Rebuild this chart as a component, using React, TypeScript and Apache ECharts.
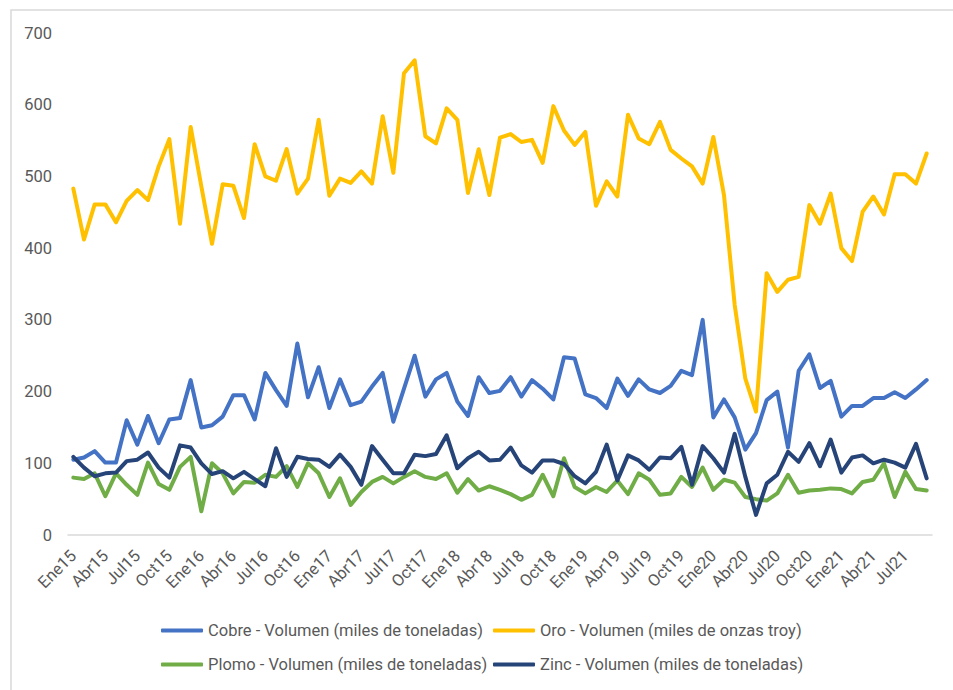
import React, { useEffect, useRef } from "react";
import * as echarts from "echarts";

const categories = [
  "Ene15","Feb15","Mar15","Abr15","May15","Jun15","Jul15","Ago15","Sep15","Oct15","Nov15","Dic15",
  "Ene16","Feb16","Mar16","Abr16","May16","Jun16","Jul16","Ago16","Sep16","Oct16","Nov16","Dic16",
  "Ene17","Feb17","Mar17","Abr17","May17","Jun17","Jul17","Ago17","Sep17","Oct17","Nov17","Dic17",
  "Ene18","Feb18","Mar18","Abr18","May18","Jun18","Jul18","Ago18","Sep18","Oct18","Nov18","Dic18",
  "Ene19","Feb19","Mar19","Abr19","May19","Jun19","Jul19","Ago19","Sep19","Oct19","Nov19","Dic19",
  "Ene20","Feb20","Mar20","Abr20","May20","Jun20","Jul20","Ago20","Sep20","Oct20","Nov20","Dic20",
  "Ene21","Feb21","Mar21","Abr21","May21","Jun21","Jul21","Ago21","Sep21",
];

const cobre = [
  105, 108, 117, 101, 101, 160, 126, 166, 128, 161, 163, 216,
  150, 153, 165, 195, 195, 161, 226, 202, 180, 267, 192, 234,
  177, 217, 181, 186, 207, 226, 158, 204, 250, 193, 217, 226,
  186, 166, 220, 198, 201, 220, 193, 216, 204, 189, 248, 246,
  196, 191, 177, 218, 194, 217, 203, 198, 208, 229, 223, 300,
  164, 189, 164, 119, 142, 188, 200, 122, 229, 252, 205, 215,
  165, 180, 180, 191, 191, 199, 191, 203, 216,
];

const oro = [
  483, 412, 461, 461, 436, 466, 481, 467, 514, 552, 434, 569,
  486, 406, 489, 487, 442, 545, 500, 494, 538, 476, 497, 579,
  473, 497, 491, 507, 490, 584, 505, 644, 662, 556, 546, 595,
  579, 477, 538, 474, 554, 559, 548, 551, 519, 598, 564, 544,
  562, 459, 493, 472, 586, 553, 545, 576, 537, 525, 514, 490,
  555, 474, 321, 218, 172, 365, 339, 356, 360, 460, 434, 476,
  400, 382, 451, 472, 447, 503, 503, 490, 532,
];

const plomo = [
  80, 78, 86, 54, 86, 70, 56, 101, 71, 63, 95, 109,
  33, 100, 86, 58, 74, 73, 84, 81, 96, 67, 100, 86,
  53, 79, 42, 60, 74, 81, 72, 81, 89, 81, 78, 86,
  59, 78, 62, 68, 63, 57, 49, 56, 84, 54, 107, 67,
  58, 67, 60, 76, 57, 86, 77, 56, 58, 81, 67, 94,
  63, 77, 73, 53, 50, 48, 58, 84, 59, 62, 63, 65,
  64, 58, 74, 77, 100, 53, 88, 64, 62,
];

const zinc = [
  109, 94, 82, 86, 87, 103, 105, 115, 94, 80, 125, 122,
  100, 85, 89, 79, 88, 78, 68, 121, 81, 109, 106, 105,
  95, 112, 95, 70, 124, 105, 86, 86, 112, 110, 113, 139,
  93, 107, 116, 104, 105, 122, 97, 87, 104, 104, 99, 82,
  72, 88, 126, 76, 111, 104, 91, 108, 107, 123, 70, 124,
  107, 87, 141, 81, 28, 72, 84, 116, 102, 128, 96, 133,
  87, 108, 111, 100, 105, 101, 94, 127, 79,
];

const seriesNames = [
  "Cobre - Volumen (miles de toneladas)",
  "Oro - Volumen (miles de onzas troy)",
  "Plomo - Volumen (miles de toneladas)",
  "Zinc - Volumen (miles de toneladas)",
];
const seriesColors = ["#4472C4", "#FFC000", "#70AD47", "#264478"];
const seriesData = [cobre, oro, plomo, zinc];

const FONT = "Roboto";
const TEXT_COLOR = "#595959";

export default function App() {
  const ref = useRef<HTMLDivElement>(null);

  useEffect(() => {
    if (!ref.current) return;
    const chart = echarts.init(ref.current, null, { renderer: "svg" });
    const legendPos = [
      { left: 161, top: 622 },
      { left: 493, top: 622 },
      { left: 161, top: 656 },
      { left: 493, top: 656 },
    ];
    chart.setOption({
      animation: false,
      backgroundColor: "#ffffff",
      textStyle: { fontFamily: FONT },
      grid: { left: 68, right: 21, top: 33, bottom: 155, containLabel: false },
      graphic: [
        {
          type: "rect",
          shape: { x: 11, y: 10, width: 960, height: 700 },
          style: { fill: "none", stroke: "#d9d9d9", lineWidth: 1.5 },
          silent: true,
        },
      ],
      legend: seriesNames.map((n, i) => ({
        data: [n],
        left: legendPos[i].left,
        top: legendPos[i].top,
        icon: "roundRect",
        itemWidth: 42,
        itemHeight: 4,
        itemGap: 0,
        padding: 0,
        textStyle: { color: TEXT_COLOR, fontSize: 16.5, fontFamily: FONT },
      })),
      xAxis: {
        type: "category",
        data: categories,
        boundaryGap: true,
        axisLine: { show: true, lineStyle: { color: "#d9d9d9", width: 1.5 } },
        axisTick: { show: false },
        axisLabel: {
          interval: 2,
          rotate: 45,
          margin: 18,
          color: TEXT_COLOR,
          fontSize: 16.5,
          fontFamily: FONT,
        },
        splitLine: { show: false },
      },
      yAxis: {
        type: "value",
        min: 0,
        max: 700,
        interval: 100,
        axisLine: { show: false },
        axisTick: { show: false },
        splitLine: { show: false },
        axisLabel: {
          margin: 16,
          color: TEXT_COLOR,
          fontSize: 16.5,
          fontFamily: FONT,
        },
      },
      series: seriesNames.map((n, i) => ({
        name: n,
        type: "line",
        data: seriesData[i],
        showSymbol: false,
        symbol: "none",
        itemStyle: { color: seriesColors[i] },
        lineStyle: { color: seriesColors[i], width: 4, join: "round", cap: "round" },
        z: 2 + i,
      })),
    });
    return () => chart.dispose();
  }, []);

  return (
    <div
      ref={ref}
      style={{ position: "absolute", left: 0, top: 0, width: 953, height: 690 }}
    />
  );
}
